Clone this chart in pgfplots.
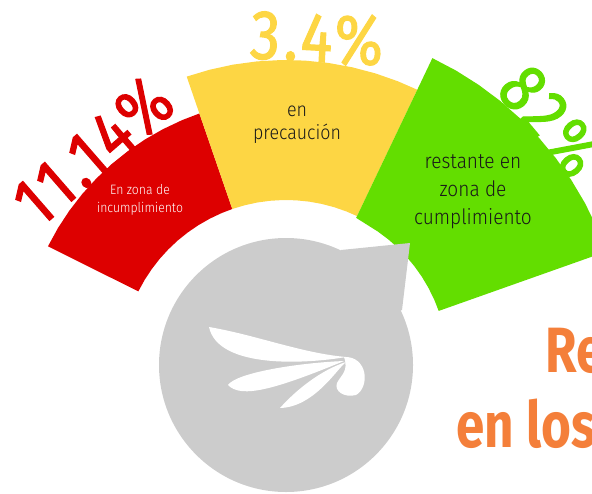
\documentclass[border=0pt]{standalone}
\usepackage{pgfplots}
\pgfplotsset{compat=1.18}
\usepackage{fontspec}
\setmainfont{Fira Sans}
\newfontfamily\pctfont{Fira Sans}[FakeStretch=0.85, FakeBold=1.6, LetterSpace=6]
\newfontfamily\lblfont{Fira Sans Light}[FakeStretch=0.9]
\newfontfamily\ttlfont{Fira Sans}[FakeStretch=0.8]
\definecolor{cRed}{RGB}{221,0,0}
\definecolor{cYel}{RGB}{253,214,68}
\definecolor{cGrn}{RGB}{99,222,0}
\definecolor{cGray}{RGB}{204,204,204}
\definecolor{cOra}{RGB}{244,127,58}
\definecolor{cTxt}{RGB}{25,25,25}
\begin{document}
\begin{tikzpicture}
\begin{axis}[
  hide axis, scale only axis,
  width=296pt, height=246.5pt,
  xmin=-286, xmax=306, ymin=-128, ymax=365,
  clip=true,
]
% sectors: (angle, radius) polar data
\addplot[fill=cRed, draw=none, no markers, data cs=polar] coordinates {
 (153.5,266) (149,266) (144.5,266) (140,266) (135.5,266) (131,266) (126.5,266) (122,266) (117.5,266) (113,266) (109,266)
 (109,165) (113,165) (117.5,165) (122,165) (126.5,165) (131,165) (135.5,165) (140,165) (144.5,165) (149,165) (153.5,165)
} -- cycle;
\addplot[fill=cYel, draw=none, no markers, data cs=polar] coordinates {
 (109,305) (104.5,305) (100,305) (95.5,305) (91,305) (86.5,305) (82,305) (77.5,305) (73,305) (68.5,305) (64.5,305)
 (64.5,165) (68.5,165) (73,165) (77.5,165) (82,165) (86.5,165) (91,165) (95.5,165) (100,165) (104.5,165) (109,165)
} -- cycle;
\addplot[fill=cGrn, draw=none, no markers, data cs=polar] coordinates {
 (64.5,340) (60,340) (55.5,340) (51,340) (46.5,340) (42,340) (37.5,340) (33,340) (28.5,340) (24,340) (19.5,340)
 (19.5,162) (24,162) (28.5,162) (33,162) (37.5,162) (42,162) (46.5,162) (51,162) (55.5,162) (60,162) (64.5,163)
} -- cycle;
% speech-bubble circle
\fill[cGray] (0,0) circle[radius=63.5pt];
\fill[cGray] (0,0) -- (55,115) -- (124,122) -- (116,55) -- cycle;
% logo
\fill[white] (-77,38) .. controls (-30,30) and (15,12) .. (60,8) .. controls (20,1) and (-68,-4) .. (-77,38) -- cycle;
\fill[white] (58,4) .. controls (10,2) and (-50,-8) .. (-58,-20) .. controls (-45,-34) and (-10,-24) .. (58,4) -- cycle;
\fill[white] (-6,-43) .. controls (10,-25) and (35,-5) .. (60,3) .. controls (50,-5) and (28,-42) .. (-6,-43) -- cycle;
\fill[white] (58,8) .. controls (82,9) and (84,-22) .. (70,-30) .. controls (58,-33) and (48,-26) .. (51,-18) .. controls (55,-10) and (63,-6) .. (58,8) -- cycle;
% percentages
\node[text=cRed, rotate=41, font=\pctfont\fontsize{35}{35}\selectfont] at (-193,214) {11.14\%};
\node[text=cYel, rotate=-3, font=\pctfont\fontsize{35}{35}\selectfont] at (31,327) {3.4\%};
\node[text=cGrn, rotate=-50, font=\pctfont\fontsize{35}{35}\selectfont] at (265,244) {82\%};
% sector labels
\node[text=white, align=center, font=\lblfont\fontsize{6.8}{9}\selectfont] at (-146,165) {En zona de\\incumplimiento};
\node[text=cTxt, align=center, font=\lblfont\fontsize{9.9}{11.5}\selectfont] at (11,240) {en\\precaución};
\node[text=cTxt, align=center, font=\lblfont\fontsize{10.6}{14}\selectfont] at (187,173) {restante en\\zona de\\cumplimiento};
% orange title (cut at right)
\node[text=cOra, anchor=base west, inner sep=0pt, font=\ttlfont\bfseries\fontsize{32}{32}\selectfont] at (259,-7) {Re};
\node[text=cOra, anchor=base west, inner sep=0pt, font=\ttlfont\bfseries\fontsize{32}{32}\selectfont] at (170,-82) {en los};
\end{axis}
\pgfresetboundingbox
\path[use as bounding box] (0,0) rectangle (296pt,246.5pt);
\end{tikzpicture}
\end{document}
